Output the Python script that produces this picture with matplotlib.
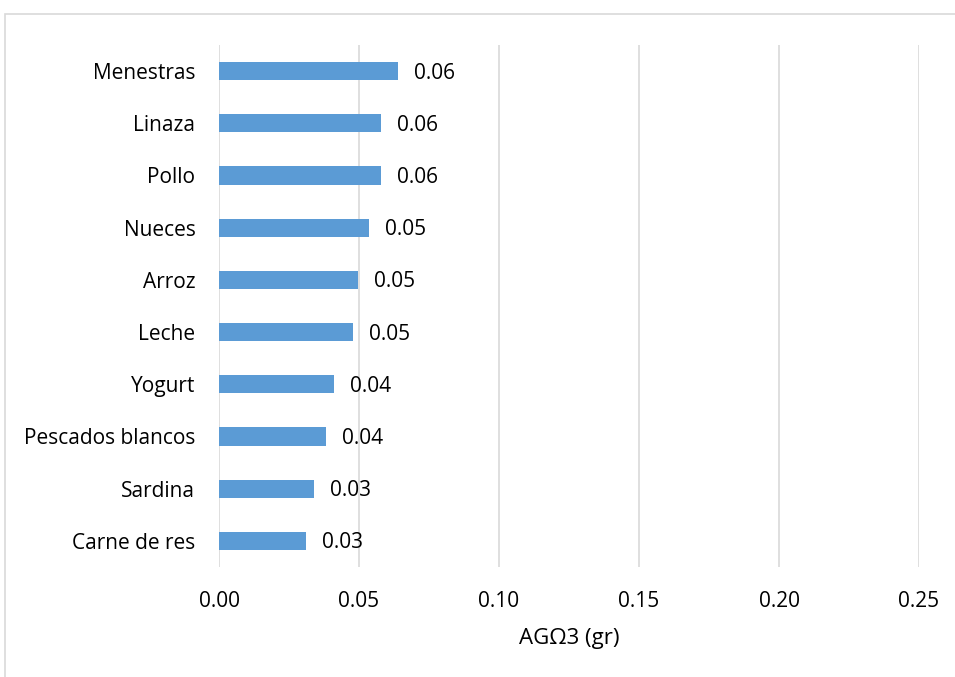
import matplotlib
matplotlib.use("Agg")
import matplotlib.pyplot as plt
from matplotlib.patches import Rectangle

categories = ["Menestras", "Linaza", "Pollo", "Nueces", "Arroz", "Leche",
              "Yogurt", "Pescados blancos", "Sardina", "Carne de res"]
values = [0.0638, 0.0578, 0.0578, 0.0536, 0.0496, 0.0479,
          0.0411, 0.0381, 0.0338, 0.0310]
xticks = [0.00, 0.05, 0.10, 0.15, 0.20, 0.25]
xlabel = "AGΩ3 (gr)"

plt.rcParams['font.family'] = ['Open Sans', 'DejaVu Sans']

W, H = 955, 677
fig = plt.figure(figsize=(W/100, H/100), dpi=100)
ax = fig.add_axes([219/W, 1-567/H, (919-219)/W, (567-45)/H])

# outer chart frame
fig.patches.append(Rectangle((5/W, -0.1), 1.2, 1+0.1-14/H, transform=fig.transFigure,
                             fill=False, edgecolor='#d9d9d9', linewidth=1.2))

y = list(range(len(categories)))[::-1]
ax.barh(y, values, height=0.35, color='#5b9bd5', zorder=3)
for yi, v in zip(y, values):
    ax.annotate(f"{v:.2f}", (v, yi), xytext=(16, -2), textcoords='offset pixels',
                va='center', ha='left', fontsize=15, color='#000000')

ax.set_xlim(0, 0.25)
ax.set_ylim(-0.5, len(categories)-0.5)
ax.set_yticks(y)
ax.set_yticklabels(categories, fontsize=15)
ax.set_xticks(xticks)
ax.set_xticklabels([f"{t:.2f}" for t in xticks], fontsize=15)
ax.tick_params(axis='y', length=0, pad=17)
ax.tick_params(axis='x', length=0, pad=17)
ax.grid(axis='x', color='#d9d9d9', linewidth=1.2, zorder=0)
for s in ax.spines.values():
    s.set_visible(False)
ax.set_xlabel(xlabel, fontsize=16, labelpad=12)

fig.savefig("out.png", dpi=100)
